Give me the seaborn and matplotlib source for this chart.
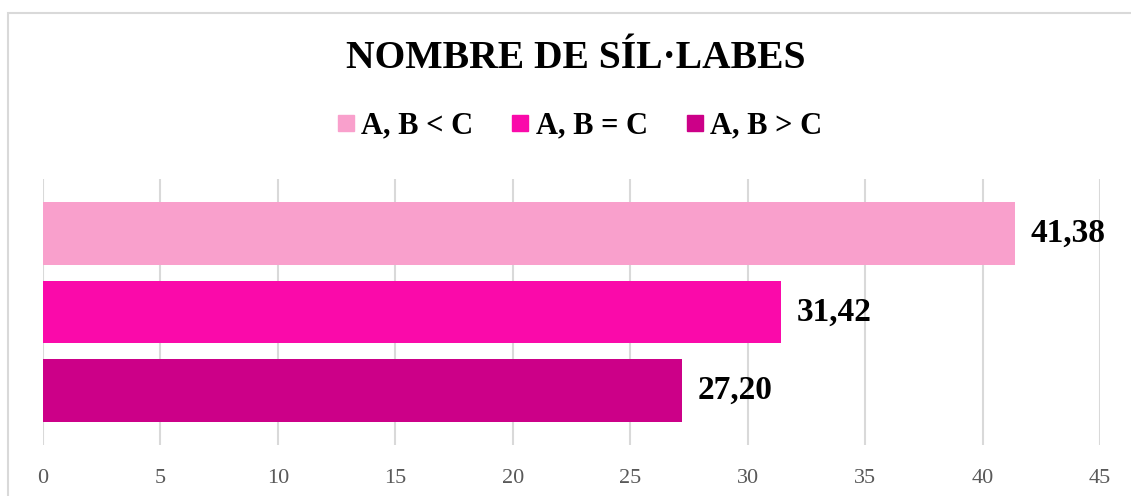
import seaborn as sns
import matplotlib.pyplot as plt
import matplotlib.patches as mpatches
from matplotlib.lines import Line2D
import pandas as pd

# dades del gràfic
categories = ['A, B < C', 'A, B = C', 'A, B > C']
valors = [41.38, 31.42, 27.20]
etiquetes = ['41,38', '31,42', '27,20']
colors = ['#F9A0CC', '#FA0AAA', '#CC0088']
ticks_x = [0, 5, 10, 15, 20, 25, 30, 35, 40, 45]

df = pd.DataFrame({'Categoria': categories, 'Valor': valors})

sns.set_theme(style="white")
plt.rcParams['font.family'] = ['Liberation Serif', 'DejaVu Serif']

W, H = 1131, 496
fig = plt.figure(figsize=(W / 100, H / 100), dpi=100)

# requadre exterior
fig.patches.append(mpatches.Rectangle((8 / W, -0.1), 1.2, 1 - 13 / H + 0.1,
                                      transform=fig.transFigure, fill=False,
                                      edgecolor='#D9D9D9', linewidth=1.5))

ax = fig.add_axes([43 / W, 1 - 445 / H, (1100 - 43) / W, (445 - 179) / H])

sns.barplot(data=df, y='Categoria', x='Valor', hue='Categoria',
            palette=colors, orient='h', width=0.8, legend=False,
            saturation=1, linewidth=0, ax=ax)

ax.set_xlim(0, 45)
ax.set_ylim(2.69, -0.69)
ax.set_xticks(ticks_x)
ax.set_xticklabels([str(t) for t in ticks_x], fontsize=16, color='#595959')
ax.tick_params(axis='x', length=0, pad=17)
ax.set_yticks([])
ax.set_xlabel('')
ax.set_ylabel('')
ax.grid(axis='x', color='#D9D9D9', linewidth=1.5)
ax.set_axisbelow(True)
for s in ax.spines.values():
    s.set_visible(False)

# etiquetes de valor
for i, (v, t) in enumerate(zip(valors, etiquetes)):
    ax.annotate(t, (v, i), xytext=(11.5, 0), textcoords='offset points',
                va='center', ha='left', fontsize=24, fontweight='bold',
                color='black')

fig.text(576 / W, 1 - 59 / H, 'NOMBRE DE SÍL·LABES', ha='center', va='center',
         fontsize=28.5, fontweight='bold', color='black')

handles = [Line2D([0], [0], marker='s', linestyle='', markersize=11.5,
                  markerfacecolor=c, markeredgecolor=c) for c in colors]
leg = fig.legend(handles, categories, loc='center',
                 bbox_to_anchor=(0.513, 1 - 126 / H),
                 ncol=3, frameon=False, prop={'size': 22, 'weight': 'bold'},
                 handlelength=0.5, handletextpad=0.25, columnspacing=1.3)
for txt in leg.get_texts():
    txt.set_color('black')

plt.savefig('out.png', dpi=100)
plt.close()
